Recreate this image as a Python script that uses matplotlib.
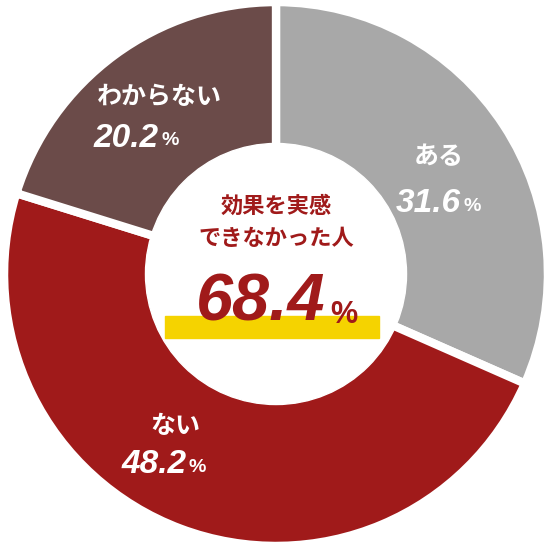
import matplotlib
matplotlib.use("Agg")
import matplotlib.pyplot as plt
from matplotlib.patches import Circle, Rectangle

labels = ["ある", "ない", "わからない"]
values = [31.6, 48.2, 20.2]
colors = ["#a8a8a8", "#a01a1a", "#6b4b49"]
center_value = 68.4

jp = ["Noto Sans CJK JP", "DejaVu Sans"]
num = ["Liberation Sans", "DejaVu Sans"]

fig = plt.figure(figsize=(5.52, 5.48), dpi=100)
ax = fig.add_axes([0, 0, 1, 1])

ax.pie(values, colors=colors, startangle=90, counterclock=False, radius=1.0,
       wedgeprops=dict(edgecolor="white", linewidth=6))
ax.add_patch(Circle((0, 0), 0.48, color="white", zorder=3))

ax.set_xlim(-1.015, 1.015)
ax.set_ylim(-1.007, 1.007)
ax.set_aspect("equal")
ax.axis("off")

# slice labels
pos = [((0.60, 0.43), (0.68, 0.26)), ((-0.37, -0.56), (-0.33, -0.70)),
       ((-0.43, 0.65), (-0.43, 0.50))]
for lab, v, (p1, p2) in zip(labels, values, pos):
    ax.text(p1[0], p1[1], lab, ha="center", va="center", color="white",
            fontsize=18, fontweight="bold", family=jp, zorder=4)
    ax.text(p2[0], p2[1], f"{v}", ha="right", va="center", color="white",
            fontsize=24, fontweight="bold", style="italic", family=num, zorder=4)
    ax.text(p2[0] + 0.01, p2[1] - 0.01, "%", ha="left", va="center", color="white",
            fontsize=14, fontweight="bold", family=num, zorder=4)

# center
ax.text(0, 0.25, "効果を実感", ha="center", va="center", color="#a01a1a",
        fontsize=16, fontweight="bold", family=jp, zorder=4)
ax.text(0, 0.13, "できなかった人", ha="center", va="center", color="#a01a1a",
        fontsize=16, fontweight="bold", family=jp, zorder=4)
ax.add_patch(Rectangle((-0.41, -0.235), 0.79, 0.08, color="#f5d300", zorder=4))
ax.text(0.18, -0.11, f"{center_value}", ha="right", va="center", color="#a01a1a",
        fontsize=48, fontweight="bold", style="italic", family=num, zorder=5)
ax.text(0.20, -0.15, "%", ha="left", va="center", color="#a01a1a",
        fontsize=22, fontweight="bold", family=num, zorder=5)

fig.savefig("out.png", dpi=100)
